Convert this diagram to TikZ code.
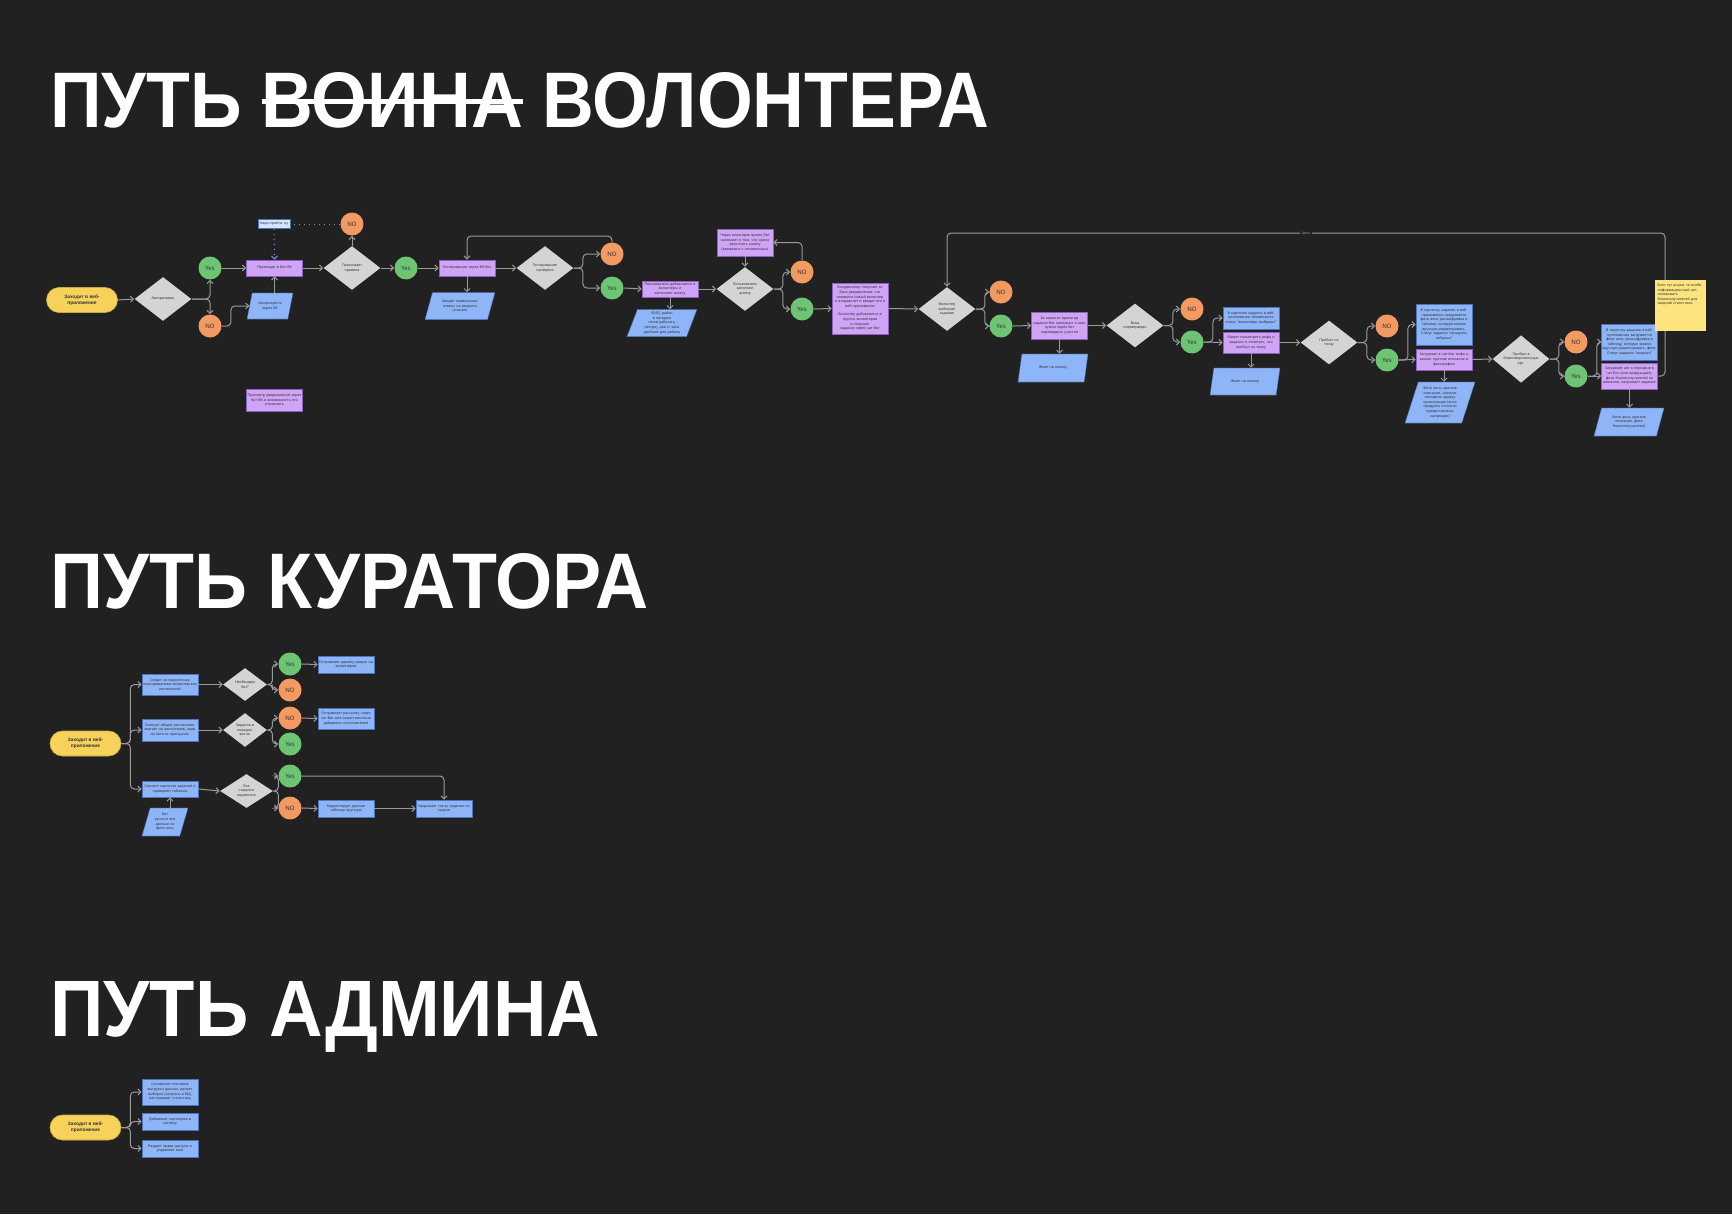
\documentclass[tikz,border=0pt]{standalone}
\usepackage{graphicx}
\usepackage{fontspec}
\setmainfont{Noto Sans}
\newfontfamily\headfont{Liberation Sans}
\usetikzlibrary{arrows.meta,shapes.geometric}
\definecolor{bg}{HTML}{212121}
\definecolor{pill}{HTML}{F6D25A}
\definecolor{rhomb}{HTML}{D4D4D4}
\definecolor{okgreen}{HTML}{6DC573}
\definecolor{nored}{HTML}{F29A62}
\definecolor{lilac}{HTML}{CFA3F6}
\definecolor{lilacline}{HTML}{8E60C0}
\definecolor{sky}{HTML}{8DB5F7}
\definecolor{skyline}{HTML}{4F73B8}
\definecolor{pale}{HTML}{D6E4FB}
\definecolor{memo}{HTML}{FDE47F}
\definecolor{wire}{HTML}{9A9A9A}
\definecolor{cueblue}{HTML}{6E95D9}
\definecolor{ink}{HTML}{333333}
\newsavebox\strikebox
\newcommand\struck[1]{\sbox\strikebox{#1}\rlap{\rule[0.305em]{\wd\strikebox}{0.06em}}\usebox\strikebox}
\newcommand\smalltxt{\fontsize{1.8}{2.3}\selectfont}

\begin{document}
\begin{tikzpicture}[x=0.5pt,y=-0.5pt,text=ink,
  entry/.style={rectangle,rounded corners=6.2pt,fill=pill,draw=pill!80!black,line width=.3pt,
    minimum width=35.5pt,minimum height=12.5pt,align=center,inner sep=0pt,
    font=\headfont\fontsize{2.4}{2.9}\selectfont\bfseries},
  decide/.style={diamond,fill=rhomb,minimum width=28.5pt,minimum height=22pt,inner sep=0pt,
    align=center,font=\smalltxt},
  act/.style={rectangle,fill=lilac,draw=lilacline,line width=.4pt,text width=27pt,
    minimum width=28pt,inner sep=.5pt,align=center,font=\smalltxt},
  info/.style={act,fill=sky,draw=skyline},
  io/.style={trapezium,trapezium left angle=70,trapezium right angle=110,trapezium stretches=true,
    fill=sky,draw=skyline,line width=.3pt,dash pattern=on .8pt off .5pt,minimum width=35pt,
    text width=20pt,inner sep=1pt,align=center,font=\smalltxt},
  bubble/.style={circle,fill=#1,minimum size=11.5pt,inner sep=0pt,font=\fontsize{3}{3}\selectfont},
  hint/.style={rectangle,fill=pale,draw=skyline,line width=.3pt,inner sep=.8pt,
    minimum width=15pt,minimum height=4.5pt,font=\smalltxt},
  memo/.style={rectangle,fill=memo,text width=23pt,align=left,minimum width=25.5pt,
    minimum height=25.5pt,inner sep=1.2pt,font=\smalltxt},
  heading/.style={anchor=base west,inner sep=0pt,text=white,font=\headfont\bfseries},
  flow/.style={draw=wire,line width=.5pt,rounded corners=2pt,-{Straight Barb[length=1.5pt,width=3pt]}},
  cue/.style={draw=cueblue,line width=.5pt,dotted}]
\useasboundingbox (0,0) rectangle (1732,1214);
\fill[bg] (0,0) rectangle (1732,1214);

% headings
\node[heading] (ttlvol) at (50,128) {\resizebox{469.5pt}{27.5pt}{ПУТЬ \struck{ВОИНА} ВОЛОНТЕРА}};
\node[heading] (ttlcur) at (50,608) {\resizebox{299pt}{27.5pt}{ПУТЬ КУРАТОРА}};
\node[heading] (ttladm) at (50,1036) {\resizebox{275pt}{27.5pt}{ПУТЬ АДМИНА}};

% --- volunteer path
\node[entry] (vstart) at (82,300) {Заходит в веб-\\приложение};
\node[decide] (vd1) at (163,299) {Авторизован};
\node[act,minimum height=8pt] (vbox1) at (274.5,268) {Переходит в бот ВК};
\node[io,minimum width=23pt,minimum height=13pt,text width=13pt] (vpar1) at (270,306) {Авторизуется\\через ВК};
\node[hint] (vnote) at (274,224) {Надо пройти, ну};
\node[decide] (vd2) at (352,268) {Принимает\\правила};
\node[act,minimum height=8pt] (vbox2) at (467,268) {Тестирование через ВК-бот};
\node[io,minimum height=13.5pt] (vpar2) at (460,306) {Вводит правильные\\ответы на вопросы\\(знания)};
\node[decide] (vd3) at (545,268) {Тестирование\\пройдено};
\node[act,minimum height=8pt] (vbox3) at (670,289) {Пользователь добавляется в\\волонтеры и заполняет анкету};
\node[io,minimum height=13.5pt] (vpar3) at (662,323) {ФИО, район в котором\\готов работать,\\(метро), дни и часы\\удобные для работы};
\node[decide] (vd4) at (745,289) {Пользователь\\заполнил\\анкету};
\node[act,minimum height=13.5pt] (vremind) at (745,242.5) {Через некоторое время бот\\напомнит о том, что нужно\\заполнить анкету\\(возможно с отложенным)};
\node[act,minimum height=25.5pt] (vcoord) at (860,308.5) {Координатор получает от\\бота уведомление, что\\появился новый волонтер\\и отправляет и вводит его в\\веб-приложение\\[2pt]Волонтер добавляется в\\группы волонтеров и получает\\задания через чат-бот};
\node[decide] (vd5) at (947,309) {Волонтер\\выбирает\\задание};
\node[act,minimum height=13.5pt] (vbox5) at (1059.5,325.5) {За какое-то время до\\задания бот напомнит о нем,\\нужно через бот\\подтвердить участие};
\node[io,minimum height=14pt] (vpar5) at (1053,368) {Жмет на кнопку};
\node[decide] (vd6) at (1135,325.5) {Вход\\подтвержден};
\node[info,minimum height=11pt] (vblue6) at (1251,318) {В карточке задания в веб-\\приложении обновляется\\статус “волонтеры выбраны”};
\node[act,minimum height=10.5pt] (vbox6) at (1251,342.5) {Может посмотреть инфо о\\задании и отметить, что\\прибыл на точку};
\node[io,minimum height=13.5pt] (vpar6) at (1245,381.5) {Жмет на кнопку};
\node[decide] (vd7) at (1329,342.5) {Прибыл на\\точку};
\node[info,minimum height=20.5pt] (vblue7) at (1444,324.5) {В карточку задания в веб-\\приложении загружается\\фото акта, расшифровка в\\таблице, которую можно\\вручную редактировать.\\Статус задания “продукты\\забраны”};
\node[act,minimum height=10.5pt] (vbox7) at (1444,359.5) {Загружает в чат-бот инфо о\\заказе, краткое описание и\\фотографии};
\node[io,minimum height=20.5pt,text width=19pt] (vpar7) at (1440,402.5) {Фото акта, краткое\\описание, сколько\\поставить адресу\\организации (если\\продукты списаны\\предоставлены\\напрямую)};
\node[decide] (vd8) at (1521,359) {Прибыл в\\благотворительную\\орг.};
\node[info,minimum height=18pt] (vblue8) at (1629.5,342) {В карточку задания в веб-\\приложении загружается\\фото акта, расшифровка в\\таблицу, которую можно\\вручную редактировать, фото.\\Статус задания “закрыто”};
\node[act,minimum height=13pt] (vbox8) at (1629.5,376) {Загружает акт о передаче в\\чат-бот (или возвращает),\\фото благополучателей по\\желанию, закрывает задание};
\node[io,minimum height=14pt] (vpar8) at (1629,422) {Фото акта, краткое\\описание, фото\\благополучателей};
\node[act,minimum height=11pt] (vnotify) at (274.5,400) {Просмотр уведомлений через\\бот ВК и возможность его\\отключить};

% --- curator path
\node[entry] (cstart) at (85.5,743.5) {Заходит в веб-\\приложение};
\node[info,minimum height=10.5pt] (cb1) at (170,684.5) {Следит за корректным\\планированием волонтерских\\активностей};
\node[decide,minimum width=22pt,minimum height=16.5pt] (cd1) at (245,684.5) {Необходим\\бот?};
\node[info,minimum height=8.5pt] (ca1) at (346,664.5) {Отправляет админу запрос на\\волонтеров};
\node[info,minimum height=11pt] (cb2) at (170,730) {Смотрит общее расписание,\\хватает ли волонтеров, надо\\ли кого-то пропушить};
\node[decide,minimum width=22pt,minimum height=17pt] (cd2) at (245,730) {Задания в\\порядке,\\все ок};
\node[info,minimum height=10.5pt] (ca2) at (346,718.5) {Отправляет рассылку через\\чат-бот или самостоятельно\\добавляет исполнителей};
\node[info,minimum height=8pt] (cb3) at (170,789) {Смотрит карточки заданий и\\проверяет таблицы};
\node[io,minimum width=23pt,minimum height=14pt,text width=12pt] (cp) at (165,822) {Бот\\заносит все\\данные из\\фото акта};
\node[decide,minimum width=26.5pt,minimum height=17pt] (cd3) at (246.5,791) {Все\\сходится\\корректно};
\node[info,minimum height=8.5pt] (ca3) at (346,808.5) {Корректирует данные\\таблицы вручную};
\node[info,minimum height=8.5pt] (ca4) at (444,808.5) {Закрывает статус задания по\\задаче};

% --- admin path
\node[entry] (astart) at (85.5,1127.5) {Заходит в веб-\\приложение};
\node[info,minimum height=13pt] (ab1) at (170,1092) {Составляет итоговые\\выгрузки данных, делает\\выборки (запросы в БД),\\настраивает статистику};
\node[info,minimum height=8.5pt] (ab2) at (170,1121.5) {Добавляет партнеров в\\систему};
\node[info,minimum height=8.5pt] (ab3) at (170,1148.5) {Раздает права доступа и\\управляет ими};

% answers
\foreach \nm/\x/\y/\lab/\c in {vy1/210/268/Yes/okgreen,vn1/210/326/NO/nored,vn0/352/224/NO/nored,
  vy2/406/268/Yes/okgreen,vn3/612/254/NO/nored,vy3/612/288/Yes/okgreen,vn4/802/272/NO/nored,
  vy4/802/309/Yes/okgreen,vn5/1001/292/NO/nored,vy5/1001/326/Yes/okgreen,vn6/1192/309/NO/nored,
  vy6/1192/342/Yes/okgreen,vn7/1387/326/NO/nored,vy7/1387/360/Yes/okgreen,vn8/1576/342/NO/nored,
  vy8/1576/376/Yes/okgreen,cy1/290/664/Yes/okgreen,cn1/290/690/NO/nored,cn2/290/718/NO/nored,
  cy2/290/744/Yes/okgreen,cy3/290/776/Yes/okgreen,cn3/290/808/NO/nored}
  \node[bubble=\c] (\nm) at (\x,\y) {\lab};

% connectors
\foreach \a/\b in {vstart/vd1,vy1/vbox1,vbox1/vd2,vd2/vy2,vy2/vbox2,vbox2/vd3,vy3/vbox3,vbox3/vd4,
  vy4/vcoord,vcoord/vd5,vy5/vbox5,vbox5/vd6,vy6/vbox6,vbox6/vd7,vy7/vbox7,vbox7/vd8,vy8/vbox8,
  cb1/cd1,cy1/ca1,cb2/cd2,cn2/ca2,cb3/cd3,cn3/ca3,ca3/ca4}
  \draw[flow] (\a.east) -- (\b.west);
\foreach \a/\b in {vbox2/vpar2,vbox3/vpar3,vbox5/vpar5,vbox6/vpar6,vbox7/vpar7,vbox8/vpar8,vremind/vd4}
  \draw[flow] (\a.south) -- (\a.south |- \b.north);
\foreach \a/\b in {vd3/vn3,vd3/vy3,vd4/vn4,vd4/vy4,vd5/vn5,vd5/vy5,vd6/vn6,vd6/vy6,vd7/vn7,vd7/vy7,
  vd8/vn8,vd8/vy8,vy6/vblue6,vy7/vblue7,vy8/vblue8,vn1/vpar1,cstart/cb1,cstart/cb2,cstart/cb3,
  astart/ab1,astart/ab2,astart/ab3}
  \draw[flow] (\a.east) -- ++(9,0) |- (\b.west);
\foreach \a/\b in {cd1/cy1,cd1/cn1,cd2/cn2,cd2/cy2,cd3/cy3,cd3/cn3}
  \draw[flow] (\a.east) -- ++(5,0) |- (\b.west);
\draw[flow] (vd1.east) -| (vy1.south);
\draw[flow] (vd1.east) -| (vn1.north);
\draw[flow] (vbox1.south |- vpar1.north) -- (vbox1.south);
\draw[flow] (vd2.north) -- (vn0.south);
\draw[flow] (cb3.south |- cp.north) -- (cb3.south);
\draw[flow] (vn3.north) -- ++(0,-6) -| (vbox2.north);
\draw[flow] (vn4.north) |- (vremind.east);
\draw[flow] (cy3.east) -| (ca4.north);
\draw[cue] (vn0.west) -- (vnote.east);
\draw[cue,-{Straight Barb[length=1.5pt,width=3pt]}] (vnote.south) -- (vbox1.north);

% cycle back to the task choice
\coordinate (cyc) at (1665,233);
\draw[flow] (vbox8.east) -| (cyc) -| (vd5.north);
\node[fill=bg,text=wire,font=\smalltxt,inner sep=.8pt] (cyclab) at (1306,233) {Цикл};

\node[memo] (vmemo) at (1680.5,305.5) {Если тут штуки, то особо\\информационный акт,\\показывать\\благополучателей для\\сводной статистики\\\rule{0pt}{10pt}};
\end{tikzpicture}
\end{document}
